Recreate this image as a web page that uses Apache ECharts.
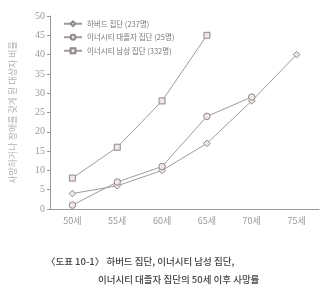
<!DOCTYPE html>
<html><head><meta charset="utf-8">
<script src="https://cdn.jsdelivr.net/npm/echarts@6/dist/echarts.min.js"></script>
<style>html,body{margin:0;padding:0;background:#fff}#c{width:332px;height:296px}</style>
</head><body><div id="c"></div>
<script>
const categories = ['50세','55세','60세','65세','70세','75세'];
const harvard = [4, 6, 10, 17, 28, 40];
const innerCollege = [1, 7, 11, 24, 29, null];
const innerMen = [8, 16, 28, 45, null, null];
const seriesNames = ['하버드 집단 (237명)', '이너시티 대졸자 집단 (25명)', '이너시티 남성 집단 (332명)'];
const yName = '사망하거나 장애를 갖게 된 대상자 비율';
const captionLines = ['〈도표 10-1〉 하버드 집단, 이너시티 남성 집단,', '이너시티 대졸자 집단의 50세 이후 사망률'];

const lineColor = '#a09a9a';
const fill = '#efe6e6';
function s(name, data, symbol){
  return {name, type:'line', data, symbol, symbolSize: symbol==='rect'?6:6.5,
    lineStyle:{color:lineColor, width:1}, itemStyle:{color:fill, borderColor:'#8f8888', borderWidth:1},
    emphasis:{disabled:true}};
}
const chart = echarts.init(document.getElementById('c'));
chart.setOption({
  animation:false,
  grid:{left:48, right:13, top:16, bottom:87},
  legend:{orient:'vertical', left:58, top:15, itemWidth:18, itemHeight:6, itemGap:6,
    textStyle:{fontSize:7.5, color:'#777', fontFamily:'Noto Sans CJK KR'}},
  xAxis:{type:'category', data:categories, boundaryGap:true,
    axisLine:{lineStyle:{color:'#999'}}, axisTick:{length:3, lineStyle:{color:'#999'}},
    axisLabel:{fontSize:9, color:'#999', margin:7, fontFamily:'Noto Sans CJK KR'}},
  yAxis:{type:'value', min:0, max:50, interval:5, name:yName, nameLocation:'middle', nameGap:33,
    nameTextStyle:{fontSize:9, color:'#b0b0b0', fontFamily:'Noto Sans CJK KR'},
    splitLine:{show:false}, axisLine:{show:true, lineStyle:{color:'#999'}},
    axisTick:{show:true, length:3, lineStyle:{color:'#999'}},
    axisLabel:{fontSize:10, color:'#999', margin:5, fontFamily:'Liberation Serif'}},
  graphic:[
    {type:'text', left:46, top:257, style:{text:captionLines[0], fontSize:9.5, fill:'#444', fontFamily:'Noto Sans CJK KR', fontWeight:500}},
    {type:'text', left:98, top:275, style:{text:captionLines[1], fontSize:9.5, fill:'#444', fontFamily:'Noto Sans CJK KR', fontWeight:500}}
  ],
  series:[s(seriesNames[0], harvard, 'diamond'), s(seriesNames[1], innerCollege, 'circle'), s(seriesNames[2], innerMen, 'rect')]
});
</script></body></html>
